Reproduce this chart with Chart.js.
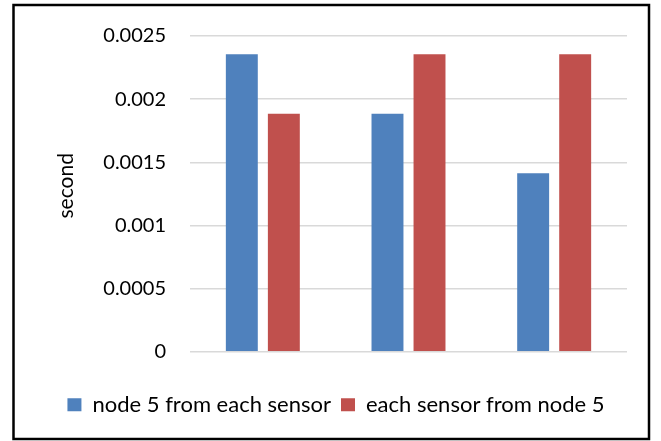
<!DOCTYPE html>
<html>
<head>
<meta charset="utf-8">
<script src="https://cdn.jsdelivr.net/npm/chart.js@4.4.1/dist/chart.umd.min.js"></script>
<style>
  body { margin: 0; background: #fff; }
  #wrap { width: 661px; height: 441px; position: relative; }
</style>
</head>
<body>
<div id="wrap"><canvas id="chart"></canvas></div>
<script>
// data
const categories = ['', '', ''];
const nodeFromSensor = [0.002355, 0.001884, 0.001413];
const sensorFromNode = [0.001884, 0.002355, 0.002355];
const yMin = 0, yMax = 0.0025, yStep = 0.0005;

const font = "Lato, 'Open Sans', sans-serif";

// black frame round the whole chart
const frame = {
    id: 'frame',
    afterDraw(c) {
        const ctx = c.ctx;
        ctx.save();
        ctx.strokeStyle = '#000';
        ctx.lineWidth = 2.5;
        ctx.strokeRect(13.5, 5, 635.5, 434);
        ctx.restore();
    }
};

const chart = document.querySelector('#chart').getContext('2d');

new Chart(chart, {
    type: 'bar',
    data: {
        labels: categories,
        datasets: [
            {
                label: 'node 5 from each sensor',
                data: nodeFromSensor,
                backgroundColor: '#4F81BD'
            },
            {
                label: 'each sensor from node 5',
                data: sensorFromNode,
                backgroundColor: '#C0504D'
            }
        ]
    },
    options: {
        responsive: true,
        maintainAspectRatio: false,
        animation: false,
        categoryPercentage: 0.577,
        barPercentage: 0.76,
        layout: { padding: { left: 45, right: 34, top: 18.3, bottom: 15.3 } },
        plugins: {
            legend: {
                position: 'bottom',
                labels: {
                    boxWidth: 14,
                    boxHeight: 13,
                    padding: 10,
                    color: '#000',
                    font: { family: font, size: 22 }
                }
            },
            tooltip: { enabled: false }
        },
        scales: {
            x: {
                grid: { display: false },
                ticks: { display: false },
                border: { display: false },
                afterFit(s) { s.height = 32; }
            },
            y: {
                min: yMin,
                max: yMax,
                ticks: {
                    stepSize: yStep,
                    color: '#000',
                    padding: 24,
                    font: { family: font, size: 20 },
                    callback: v => String(Number(v.toFixed(4)))
                },
                grid: { color: '#D9D9D9', lineWidth: 1.5, drawTicks: false },
                border: { display: false },
                title: {
                    display: true,
                    text: '   second',
                    color: '#000',
                    padding: { top: 9, bottom: 0 },
                    font: { family: font, size: 21 }
                },
                afterFit(s) { s.width = 145; }
            }
        }
    },
    plugins: [frame]
});
</script>
</body>
</html>
